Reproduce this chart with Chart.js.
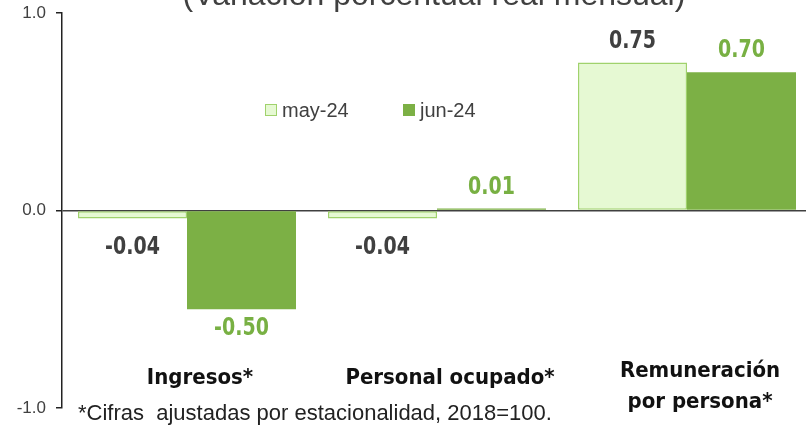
<!DOCTYPE html>
<html>
<head>
<meta charset="utf-8">
<script src="https://cdn.jsdelivr.net/npm/chart.js@4.4.1/dist/chart.umd.min.js"></script>
<style>
  html, body { margin: 0; padding: 0; background: #fff; overflow: hidden; }
  #wrap { width: 806px; height: 425px; overflow: hidden; }
</style>
</head>
<body>
<div id="wrap"><canvas id="myBarChart" width="818" height="425"></canvas></div>
<script>
// DATA
var categories = [['Ingresos*'], ['Personal ocupado*'], ['Remuneración', 'por persona*']];
var may24 = [-0.04, -0.04, 0.75];
var jun24 = [-0.50, 0.01, 0.70];
var seriesNames = ['may-24', 'jun-24'];
var yTicks = [-1.0, 0.0, 1.0];
var titleText = '(Variación porcentual real mensual)';
var noteText = '*Cifras  ajustadas por estacionalidad, 2018=100.';

var COND = "'DejaVu Sans Condensed', 'DejaVu Sans', sans-serif";
var SANS = "'Liberation Sans', Arial, sans-serif";
var DARK = '#404040';
var LIGHT_FILL = '#e6f9d3';
var LIGHT_LINE = '#a0d26c';
var GREEN = '#7cb045';
var GREEN_TEXT = '#78b043';

// title, footnote, category labels, legend and value labels
var extras = {
  id: 'extras',
  afterDatasetsDraw: function(chart) {
    var c = chart.ctx;
    var x = chart.scales.x, y = chart.scales.y;
    var zeroY = y.getPixelForValue(0);
    c.save();

    // title (cut off at the top like the original)
    c.fillStyle = DARK;
    c.font = '32px ' + SANS;
    c.textAlign = 'center';
    c.textBaseline = 'alphabetic';
    c.fillText(titleText, 434, 5);

    // value labels (slightly condensed)
    c.font = 'bold 24px ' + COND;
    c.textBaseline = 'middle';
    chart.data.datasets.forEach(function(ds, di) {
      var meta = chart.getDatasetMeta(di);
      meta.data.forEach(function(bar, i) {
        var v = ds.data[i];
        var ly = v >= 0 ? bar.y - 21 : Math.max(bar.y + 20, zeroY + 37);
        c.fillStyle = di === 0 ? DARK : GREEN_TEXT;
        c.save();
        c.translate(bar.x, ly);
        c.scale(0.88, 1);
        c.fillText(v.toFixed(2), 0, 0);
        c.restore();
      });
    });

    // category labels inside the plot
    c.fillStyle = '#111';
    c.font = 'bold 22px ' + COND;
    categories.forEach(function(lines, i) {
      var cx = x.getPixelForValue(i) + 13;
      if (lines.length === 1) {
        c.fillText(lines[0], cx, 378);
      } else {
        lines.forEach(function(t, k) { c.fillText(t, cx, 371 + k * 31); });
      }
    });

    // legend
    c.font = '20px ' + SANS;
    c.textAlign = 'left';
    var lx = [265, 403];
    chart.data.datasets.forEach(function(ds, di) {
      c.fillStyle = ds.backgroundColor;
      c.fillRect(lx[di], 104, 12, 12);
      c.strokeStyle = ds.borderColor;
      c.lineWidth = 1;
      c.strokeRect(lx[di] + 0.5, 104.5, 11, 11);
      c.fillStyle = DARK;
      c.fillText(ds.label, lx[di] + 17, 111);
    });

    // footnote
    c.font = '22px ' + SANS;
    c.fillStyle = '#222';
    c.textBaseline = 'alphabetic';
    c.fillText(noteText, 78, 420);

    c.restore();
  }
};

var ctx = document.getElementById('myBarChart').getContext('2d');
var chart = new Chart(ctx, {
    type: 'bar',
    data: {
        labels: categories,
        datasets: [{
            label: seriesNames[0],
            backgroundColor: LIGHT_FILL,
            borderColor: LIGHT_LINE,
            borderWidth: 1.5,
            borderSkipped: false,
            data: may24
        }, {
            label: seriesNames[1],
            backgroundColor: GREEN,
            borderColor: GREEN,
            borderWidth: 0,
            data: jun24
        }]
    },
    options: {
        responsive: false,
        animation: false,
        layout: { padding: { top: 13, bottom: 17, right: 6, left: 0 } },
        plugins: { legend: { display: false }, tooltip: { enabled: false } },
        datasets: { bar: { categoryPercentage: 0.872, barPercentage: 1.0 } },
        scales: {
            x: {
                display: false
            },
            y: {
                min: -1, max: 1,
                afterFit: function(s) { s.width = 62; s.paddingTop = 0; s.paddingBottom = 0; },
                afterBuildTicks: function(s) {
                    s.ticks = yTicks.map(function(v) { return { value: v }; });
                },
                border: { display: true, color: '#222', width: 1.5 },
                grid: {
                    drawOnChartArea: true,
                    drawTicks: true,
                    tickLength: 6,
                    tickColor: '#222',
                    lineWidth: 1.5,
                    color: function(c) { return c.tick && c.tick.value === 0 ? '#404040' : 'rgba(0,0,0,0)'; }
                },
                ticks: {
                    padding: 10,
                    color: DARK,
                    font: { family: SANS, size: 17 },
                    callback: function(v) { return Number(v).toFixed(1); }
                }
            }
        }
    },
    plugins: [extras]
});
</script>
</body>
</html>
